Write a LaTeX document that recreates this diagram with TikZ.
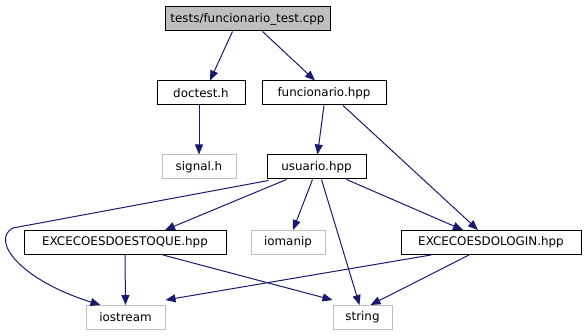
\documentclass[tikz,border=0pt]{standalone}
\usepackage{fontspec}
\setmainfont{DejaVu Sans}
\usepackage{tikz}
\usetikzlibrary{arrows.meta}
\definecolor{edgeblue}{HTML}{191970}
\definecolor{leafgray}{HTML}{BFBFBF}
\tikzstyle{file} = [rectangle, draw=black, line width=1pt, minimum height=24, inner sep=0pt, font=\fontsize{11.9}{14}\selectfont]
\tikzstyle{leaf} = [file, draw=leafgray]
\tikzstyle{root} = [file, fill=leafgray]
\tikzstyle{arrow} = [edgeblue, line width=1pt, -{Triangle[length=10pt,width=8pt]}]

\begin{document}
\begin{tikzpicture}[x=1pt, y=-1pt]
        \useasboundingbox (0,0) rectangle (586,336);
        \node (test) [root, minimum width=165] at (247.5,19) {tests/funcionario\_test.cpp};
        \node (doctest) [file, minimum width=88] at (201,93) {doctest.h};
        \node (funcionario) [file, minimum width=124] at (324,93) {funcionario.hpp};
        \node (signal) [leaf, minimum width=74] at (199,167) {signal.h};
        \node (usuario) [file, minimum width=99] at (316.5,167) {usuario.hpp};
        \node (estoque) [file, minimum width=202] at (125,242.5) {EXCECOESDOESTOQUE.hpp};
        \node (iomanip) [leaf, minimum width=74] at (288,242.5) {iomanip};
        \node (login) [file, minimum width=180] at (491,242.5) {EXCECOESDOLOGIN.hpp};
        \node (iostream) [leaf, minimum width=79] at (125.5,317.5) {iostream};
        \node (string) [leaf, minimum width=59] at (362.5,317.5) {string};
        \draw [arrow] ([xshift=-15]test.south) -- ([xshift=9]doctest.north);
        \draw [arrow] ([xshift=15]test.south) -- ([xshift=-9]funcionario.north);
        \draw [arrow] ([xshift=-2]doctest.south) -- (signal.north);
        \draw [arrow] (funcionario.south) -- ([xshift=1]usuario.north);
        \draw [arrow] ([xshift=19]funcionario.south) -- ([xshift=-13]login.north);
        \draw [arrow] ([xshift=2,yshift=-1]usuario.south west) -- (13,228) .. controls (-10,240) and (20,280) .. ([xshift=-25]iostream.north);
        \draw [arrow] ([xshift=-30]usuario.south) -- ([xshift=40]estoque.north);
        \draw [arrow] ([xshift=-4]usuario.south) -- ([xshift=5]iomanip.north);
        \draw [arrow] ([xshift=5]usuario.south) -- ([xshift=-3]string.north);
        \draw [arrow] ([xshift=30]usuario.south) -- ([xshift=-28]login.north);
        \draw [arrow] (estoque.south) -- (iostream.north);
        \draw [arrow] ([xshift=38]estoque.south) -- ([yshift=5]string.north west);
        \draw [arrow] ([xshift=-60]login.south) -- ([yshift=5]iostream.north east);
        \draw [arrow] ([xshift=-22]login.south) -- ([xshift=-22]string.north east);
    \end{tikzpicture}
\end{document}
